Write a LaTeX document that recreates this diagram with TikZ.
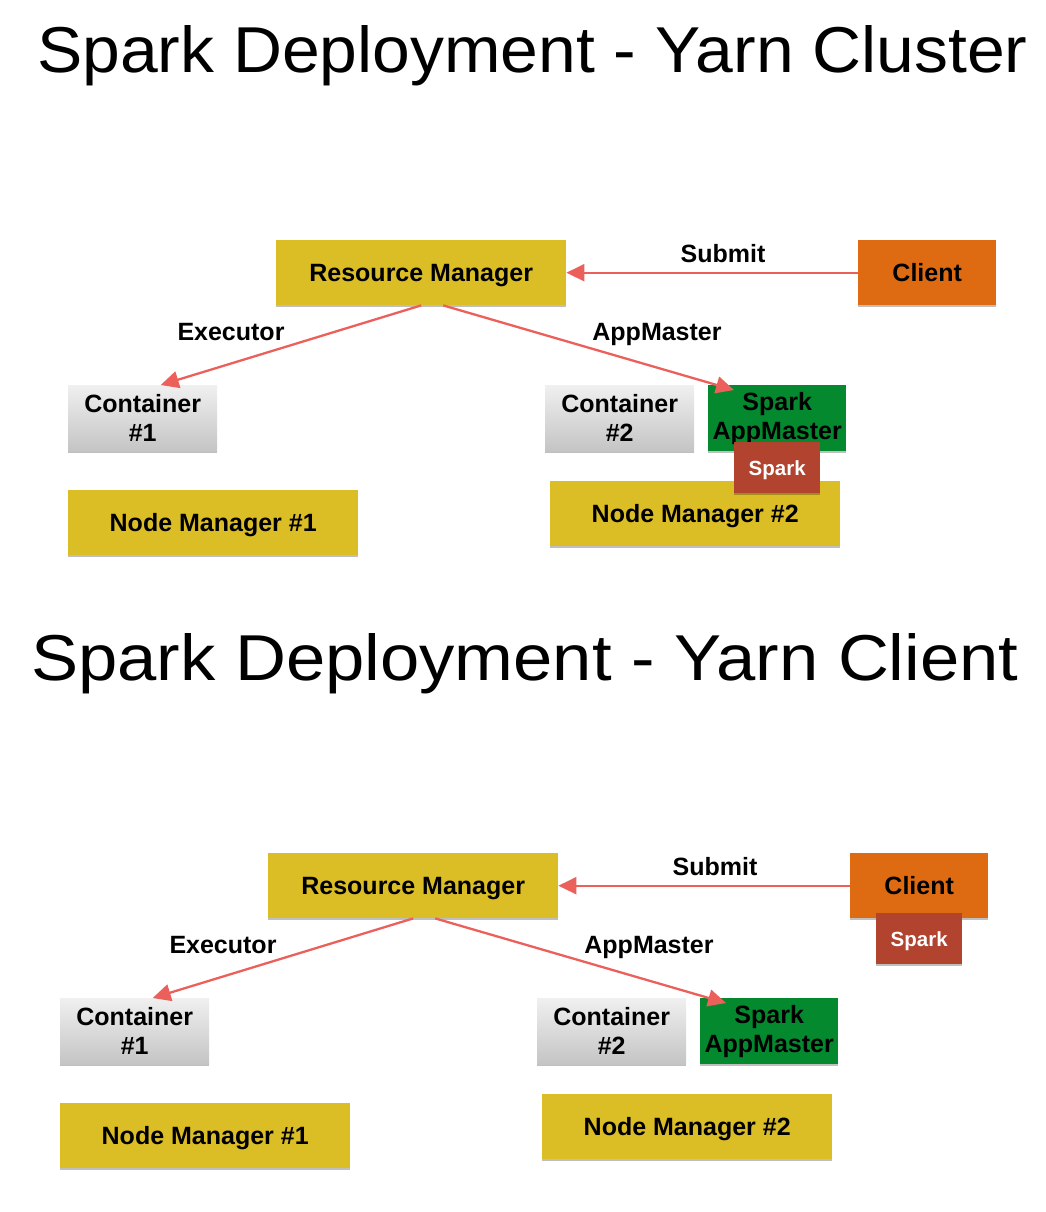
\documentclass[tikz,border=0pt]{standalone}
\usepackage{fontspec}
\setmainfont{Liberation Sans}
\usetikzlibrary{arrows.meta,shadows,calc}
\definecolor{rmyellow}{HTML}{DBBD25}
\definecolor{clorange}{HTML}{DE6A12}
\definecolor{amgreen}{HTML}{04892F}
\definecolor{sparkred}{HTML}{B2432F}
\definecolor{arrowred}{HTML}{EB605B}
\begin{document}
\begin{tikzpicture}[x=1pt,y=-1pt,
  box/.style={rectangle, anchor=north west, inner sep=0pt, align=center,
    font=\fontsize{25}{29}\selectfont\bfseries,
    drop shadow={shadow xshift=0pt, shadow yshift=-2pt, opacity=0.25, fill=black}},
  oneline/.style={text height=18pt, text depth=0pt},
  ybox/.style={box, oneline, fill=rmyellow, minimum width=290, minimum height=65},
  clbox/.style={box, oneline, fill=clorange, minimum width=138, minimum height=65},
  ctbox/.style={box, top color=white!94!black, bottom color=white!77!black, minimum width=149, minimum height=66},
  ambox/.style={box, fill=amgreen, minimum width=138, minimum height=66},
  spbox/.style={box, fill=sparkred, text=white, minimum width=86, minimum height=51,
    font=\fontsize{20.5}{24}\selectfont\bfseries, text height=15pt, text depth=0pt},
  lbl/.style={font=\fontsize{25}{29}\selectfont\bfseries, inner sep=0pt},
  ttl/.style={anchor=base west, inner sep=0pt},
  conn/.style={draw=arrowred, line width=2.3pt, -{Triangle[length=18pt,width=17pt]}}
]
\useasboundingbox (0,0) rectangle (1046,1212);

% ---------- Titles ----------
\node[ttl] (t1) at (37,73) {\resizebox{990pt}{47pt}{Spark Deployment - Yarn Cluster}};
\node[ttl] (t2) at (31,680) {\resizebox{987pt}{47pt}{Spark Deployment - Yarn Client}};

% ---------- Yarn Cluster ----------
\node[ybox] (rm1) at (276,240) {Resource Manager};
\node[clbox] (cl1) at (858,240) {Client};
\node[ctbox] (ca1) at (68,385) {Container\\\#1};
\node[ybox] (nma1) at (68,490) {Node Manager \#1};
\node[ctbox] (cb1) at (545,385) {Container\\\#2};
\node[ambox] (am1) at (708,385) {Spark\\AppMaster};
\node[ybox] (nmb1) at (550,481) {Node Manager \#2};
\node[spbox] (sp1) at (734,442) {Spark};

\node[lbl] (sub1) at (723,254) {Submit};
\node[lbl] (ex1) at (231,332) {Executor};
\node[lbl] (aml1) at (657,334) {AppMaster};

\draw[conn] (cl1.west) -- (rm1.east);
\draw[conn] (rm1.south) -- ([xshift=18pt]ca1.north);
\draw[conn] ([xshift=22pt]rm1.south) -- ([xshift=26pt,yshift=-5pt]am1.north west);

% ---------- Yarn Client ----------
\node[ybox] (rm2) at (268,853) {Resource Manager};
\node[clbox] (cl2) at (850,853) {Client};
\node[spbox] (sp2) at (876,913) {Spark};
\node[ctbox] (ca2) at (60,998) {Container\\\#1};
\node[ybox] (nma2) at (60,1103) {Node Manager \#1};
\node[ctbox] (cb2) at (537,998) {Container\\\#2};
\node[ambox] (am2) at (700,998) {Spark\\AppMaster};
\node[ybox] (nmb2) at (542,1094) {Node Manager \#2};

\node[lbl] (sub2) at (715,867) {Submit};
\node[lbl] (ex2) at (223,945) {Executor};
\node[lbl] (aml2) at (649,947) {AppMaster};

\draw[conn] (cl2.west) -- (rm2.east);
\draw[conn] (rm2.south) -- ([xshift=18pt]ca2.north);
\draw[conn] ([xshift=22pt]rm2.south) -- ([xshift=26pt,yshift=-5pt]am2.north west);
\end{tikzpicture}
\end{document}
